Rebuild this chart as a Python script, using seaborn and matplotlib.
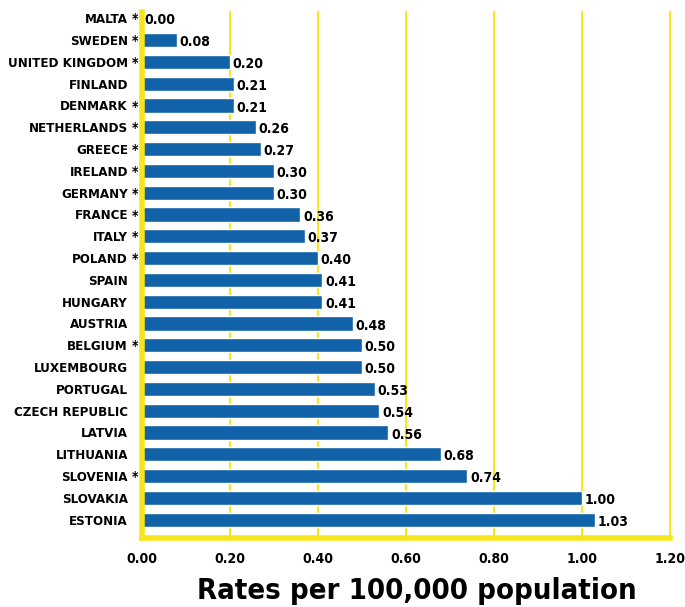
import numpy as np
import pandas as pd
import matplotlib
matplotlib.use('Agg')
import matplotlib.pyplot as plt
import matplotlib.transforms as mtrans
import seaborn as sns

countries = ['MALTA', 'SWEDEN', 'UNITED KINGDOM', 'FINLAND', 'DENMARK', 'NETHERLANDS',
             'GREECE', 'IRELAND', 'GERMANY', 'FRANCE', 'ITALY', 'POLAND', 'SPAIN',
             'HUNGARY', 'AUSTRIA', 'BELGIUM', 'LUXEMBOURG', 'PORTUGAL', 'CZECH REPUBLIC',
             'LATVIA', 'LITHUANIA', 'SLOVENIA', 'SLOVAKIA', 'ESTONIA']
rates = [0.00, 0.08, 0.20, 0.21, 0.21, 0.26, 0.27, 0.30, 0.30, 0.36, 0.37, 0.40, 0.41,
         0.41, 0.48, 0.50, 0.50, 0.53, 0.54, 0.56, 0.68, 0.74, 1.00, 1.03]
starred = [True, True, True, False, True, True, True, True, True, True, True, True, False,
           False, False, True, False, False, False, False, False, True, False, False]
xticks = [0.0, 0.2, 0.4, 0.6, 0.8, 1.0, 1.2]

df = pd.DataFrame({'country': countries, 'rate': rates})

sns.set_style('white')
plt.rcParams['font.family'] = ['DejaVu Sans']
plt.rcParams['font.weight'] = 'bold'
plt.rcParams['font.stretch'] = 'condensed'
plt.rcParams['text.color'] = 'black'
plt.rcParams['xtick.labelcolor'] = 'black'
plt.rcParams['ytick.labelcolor'] = 'black'

blue = '#1262a9'
yellow = '#f7e61c'

fig = plt.figure(figsize=(6.85, 6.07), dpi=100)
ax = fig.add_axes([0.207, 0.114, 0.771, 0.866])

sns.barplot(data=df, x='rate', y='country', color=blue, saturation=1,
            width=0.65, ax=ax, zorder=3)

ax.set_xlim(0, 1.2)
ax.set_ylim(len(countries) - 0.17, -0.28)
ax.set_xticks(xticks)
ax.set_xticklabels([f'{t:.2f}' for t in xticks], fontsize=10, fontweight='bold')
ax.tick_params(axis='x', colors=yellow, length=6, width=2.5, labelcolor='black', pad=4)
ax.tick_params(axis='y', length=0, pad=10, labelsize=9.5, labelcolor='black')
for lab in ax.get_yticklabels():
    lab.set_fontweight('bold')

for x in xticks[1:]:
    ax.axvline(x, color=yellow, lw=1.5, zorder=1, clip_on=False)

for s in ['top', 'right']:
    ax.spines[s].set_visible(False)
for s in ['left', 'bottom']:
    ax.spines[s].set_color(yellow)
    ax.spines[s].set_linewidth(4)
    ax.spines[s].set_zorder(5)

ax.set_xlabel('')
ax.set_ylabel('')

trans = mtrans.blended_transform_factory(ax.transAxes, ax.transData)
for i, (v, st) in enumerate(zip(rates, starred)):
    ax.text(v + 0.006, i + 0.1, f'{v:.2f}', va='center', ha='left', fontsize=10,
            fontweight='bold', zorder=4)
    if st:
        ax.text(-0.013, i + 0.05, '*', va='center', ha='center', fontsize=10,
                fontweight='bold', transform=trans)

fig.text(0.609, 0.026, 'Rates per 100,000 population', ha='center', va='center',
         fontsize=21, fontweight='bold')

fig.savefig('out.png', dpi=100)
